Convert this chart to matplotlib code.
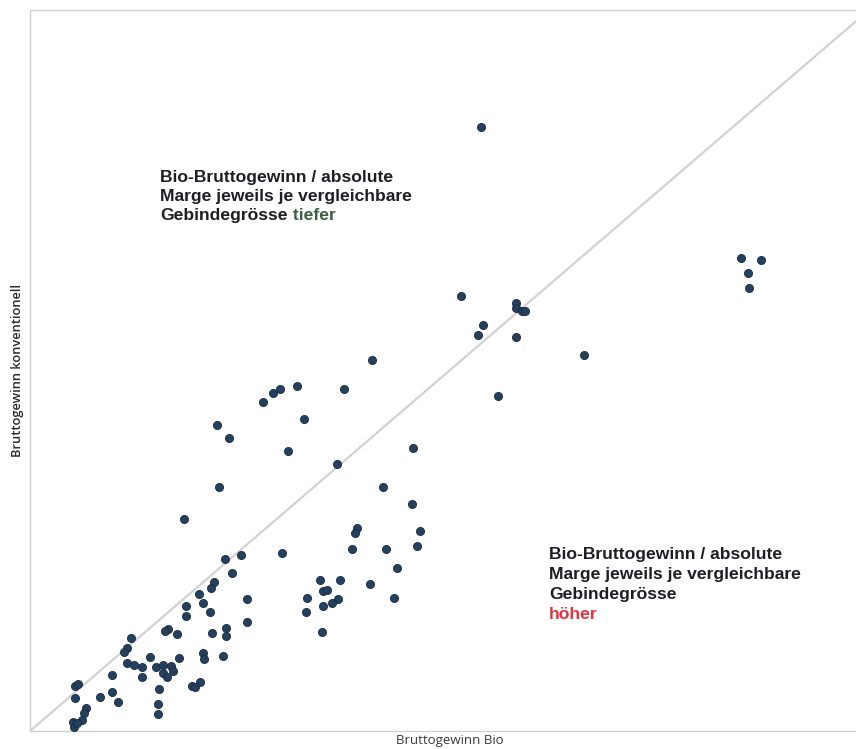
import matplotlib
matplotlib.use('Agg')
import matplotlib.pyplot as plt

# Bruttogewinn Bio (x) vs. konventionell (y), relative units
bio = [53.8, 51.4, 57.9, 57.9, 58.6, 59.0, 54.0, 53.4, 57.9, 66.0, 55.8,
       84.7, 87.1, 85.6, 85.7, 40.8, 27.8, 29.0, 29.8, 31.8, 37.4, 32.7,
       22.3, 23.7, 30.8, 36.6, 22.5, 18.4, 45.7, 42.1, 45.5, 39.0, 38.7,
       46.5, 46.1, 30.0, 38.4, 42.4, 43.7, 34.6, 36.9, 34.9, 35.4, 40.5,
       33.0, 36.7, 36.0, 34.9, 32.9, 43.4, 34.8,
       23.2, 25.1, 24.1, 21.9, 21.6, 20.1, 20.6, 25.9, 18.6, 21.5, 18.6,
       25.9, 16.4, 16.1, 17.5, 21.7, 23.4, 23.4, 12.0, 11.6, 11.2, 14.3,
       17.8, 20.6, 20.7, 23.0, 11.6, 12.4, 13.3, 15.0, 15.9, 16.8, 17.0,
       15.9, 16.3, 9.8, 13.3, 5.4, 5.7, 19.3, 19.7, 20.3, 15.4, 5.4, 8.3,
       9.8, 10.5, 15.3, 15.3, 6.7, 6.4, 6.2, 5.1, 5.2, 5.6]
konv = [83.8, 60.3, 59.4, 58.6, 58.3, 58.3, 56.3, 54.9, 54.6, 52.2, 46.5,
        65.6, 65.3, 63.5, 61.4, 51.5, 45.7, 46.9, 47.4, 47.8, 47.5, 43.3,
        42.4, 40.7, 38.9, 37.1, 33.9, 29.4, 39.3, 33.8, 31.5, 28.1, 27.5,
        27.8, 25.7, 24.7, 25.3, 25.3, 22.6, 21.0, 21.0, 19.4, 19.6, 20.4,
        18.5, 18.3, 17.8, 17.4, 16.5, 18.5, 13.8,
        23.9, 24.4, 21.9, 20.6, 19.9, 19.0, 17.8, 18.3, 17.4, 16.5, 16.0,
        15.1, 14.2, 13.9, 13.5, 13.6, 14.3, 13.2, 12.9, 11.5, 11.0, 10.3,
        10.1, 10.8, 10.0, 10.4, 9.4, 9.2, 8.9, 8.9, 9.2, 9.0, 8.3,
        8.1, 7.5, 7.8, 7.5, 6.3, 6.5, 6.3, 6.1, 6.8, 5.8, 4.6, 4.7,
        5.4, 4.0, 3.8, 2.4, 3.2, 2.5, 1.5, 1.3, 0.6, 1.1]

text_lines = ["Bio-Bruttogewinn / absolute", "Marge jeweils je vergleichbare"]

fig = plt.figure(figsize=(8.56, 7.49), dpi=100)
# right edge of the frame lies just outside the scanned page
ax = fig.add_axes([30 / 856, 18 / 749, 839 / 856, 721 / 749])

ax.plot([0, 100], [0, 100], color='#d2d2d2', lw=1.6, zorder=1)
ax.scatter(bio, konv, s=34, color='#23405f', edgecolors='#1b2a3d',
           linewidths=0.6, zorder=3)

ax.set_xlim(0, 100)
ax.set_ylim(0, 100)
ax.set_xticks([])
ax.set_yticks([])
for side in ['left', 'top', 'bottom']:
    ax.spines[side].set_color('#cfcfcf')
    ax.spines[side].set_linewidth(1.0)
ax.spines['right'].set_visible(False)

ax.set_xlabel("Bruttogewinn Bio", fontsize=9.5, family='Open Sans',
              color='#3a3a3a', labelpad=2)
ax.set_ylabel("Bruttogewinn konventionell", fontsize=9.3, family='Open Sans',
              color='#2a2a2a', labelpad=4, fontweight='semibold')

fs = 12.6
fnt = dict(fontsize=fs, family='Liberation Sans', fontweight='bold',
           color='#1e1e24', transform=fig.transFigure, va='baseline')

# upper-left note
y0 = 1 - 182 / 749
step = 19 / 749
for i, line in enumerate(text_lines):
    fig.text(160 / 856, y0 - i * step, line, **fnt)
t = fig.text(160 / 856, y0 - 2 * step, "Gebindegrösse", **fnt)
ax.annotate(" tiefer", xy=(1, 0), xycoords=t, va='bottom', ha='left',
            fontsize=fs, family='Liberation Sans', fontweight='bold',
            color='#3d5e45')

# lower-right note
y1 = 1 - 559 / 749
step2 = 20 / 749
for i, line in enumerate(text_lines + ["Gebindegrösse"]):
    fig.text(549 / 856, y1 - i * step2, line, **fnt)
fig.text(549 / 856, y1 - 3 * step2, "höher", fontsize=fs,
         family='Liberation Sans', fontweight='bold', color='#e2323f',
         transform=fig.transFigure, va='baseline')

fig.savefig('out.png', dpi=100)
